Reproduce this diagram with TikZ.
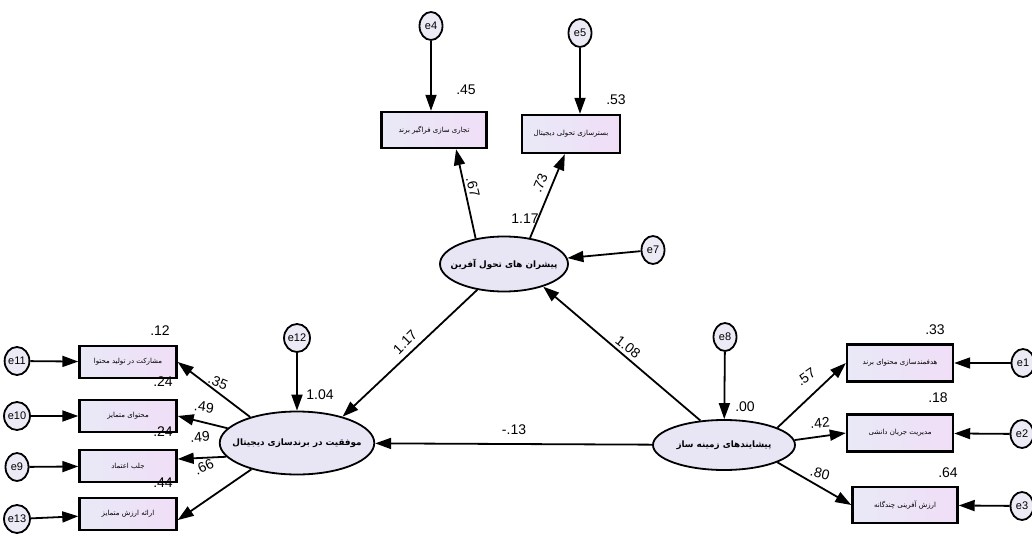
\documentclass[tikz,border=0pt]{standalone}
\usepackage{fontspec}
\setmainfont{Liberation Sans}
\newfontfamily\fa[Script=Arabic]{DejaVu Sans}
\TeXXeTstate=1
\usetikzlibrary{shapes.geometric,arrows.meta}
\newcommand{\farsi}[1]{{\fa\beginR #1\endR}}
\tikzset{
	obs/.style={draw,line width=2.4pt,rectangle,inner sep=0pt,
		left color={rgb,255:red,233;green,233;blue,247},right color={rgb,255:red,240;green,222;blue,247},
		minimum width=97pt,minimum height=32pt,font=\fontsize{7}{8}\selectfont},
	lat/.style={draw,line width=1.8pt,ellipse,inner xsep=-10pt,inner ysep=0pt,fill={rgb,255:red,232;green,229;blue,245},
		font=\bfseries\fontsize{8.8}{10}\selectfont},
	err/.style={draw,line width=1.8pt,ellipse,inner sep=0pt,fill={rgb,255:red,236;green,234;blue,245},
		minimum width=23pt,minimum height=28pt,font=\fontsize{11}{12}\selectfont},
	path/.style={line width=1.8pt,-{Triangle[length=16pt,width=11pt]}},
	lbl/.style={inner sep=0pt,font=\fontsize{14}{15}\selectfont}
}
\begin{document}
\begin{tikzpicture}[x=1pt,y=-1pt]
	\useasboundingbox (0,0) rectangle (1032,537);
	
	% latent variables
	\node[lat,minimum width=128pt,minimum height=55pt] (F) at (504,264) {\farsi{پیشران های تحول آفرین}};
	\node[lat,minimum width=154pt,minimum height=63pt] (L) at (297,443) {\farsi{موفقیت در برندسازی دیجیتال}};
	\node[lat,minimum width=142pt,minimum height=50pt] (R) at (724,445) {\farsi{پیشایندهای زمینه ساز}};
	
	% top indicators
	\node[obs,minimum width=105pt,minimum height=36pt] (b4) at (434,130) {\farsi{تجاری سازی فراگیر برند}};
	\node[obs,minimum width=98pt,minimum height=38pt] (b5) at (571,134) {\farsi{بسترسازی تحولی دیجیتال}};
	
	% left indicators
	\node[obs] (b11) at (128,362) {\farsi{مشارکت در تولید محتوا}};
	\node[obs] (b10) at (128,416) {\farsi{محتوای متمایز}};
	\node[obs] (b9) at (128,466) {\farsi{جلب اعتماد}};
	\node[obs] (b13) at (128,514) {\farsi{ارائه ارزش متمایز}};
	
	% right indicators
	\node[obs,minimum width=106pt,minimum height=37pt] (b1) at (900,363) {\farsi{هدفمندسازی محتوای برند}};
	\node[obs,minimum width=106pt,minimum height=37pt] (b2) at (900,433) {\farsi{مدیریت جریان دانشی}};
	\node[obs,minimum width=105pt,minimum height=36pt] (b3) at (905,505) {\farsi{ارزش آفرینی چندگانه}};
	
	% error terms
	\node[err] (e4) at (431,26) {e4};
	\node[err] (e5) at (580,33) {e5};
	\node[err] (e7) at (653,250) {e7};
	\node[err] (e12) at (297,338) {e12};
	\node[err] (e8) at (725,337) {e8};
	\node[err] (e11) at (17,361) {e11};
	\node[err] (e10) at (17,416) {e10};
	\node[err] (e9) at (17,467) {e9};
	\node[err] (e13) at (17,519) {e13};
	\node[err] (e1) at (1023,363) {e1};
	\node[err] (e2) at (1022,434) {e2};
	\node[err] (e3) at (1022,506) {e3};
	
	% paths
	\draw[path] (F.138) -- (b4.-41);
	\draw[path] (F.45) -- (b5.-107);
	\draw[path] (F.224) -- (L.30);
	\draw[path] (R.134) -- (F.-30);
	\draw[path] (R) -- (L);
	\draw[path] (L.151) -- (b11.east);
	\draw[path] (L.168) -- (b10.east);
	\draw[path] (L.191) -- (b9.8);
	\draw[path] (L.210) -- (b13.-7);
	\draw[path] (R.18) -- (b1.west);
	\draw[path] (R.4) -- (b2.west);
	\draw[path] (R.-18) -- (b3.west);
	
	\draw[path] (e4) -- (e4 |- b4.north);
	\draw[path] (e5) -- (e5 |- b5.north);
	\draw[path] (e7) -- (F);
	\draw[path] (e12) -- (L);
	\draw[path] (e8) -- (R);
	\draw[path] (e11) -- (b11);
	\draw[path] (e10) -- (b10);
	\draw[path] (e9) -- (b9);
	\draw[path] (e13) -- (b13);
	\draw[path] (e1) -- (b1);
	\draw[path] (e2) -- (b2);
	\draw[path] (e3) -- (b3);
	
	% estimates
	\node[lbl] (v4) at (466,90) {.45};
	\node[lbl] (v5) at (616,100) {.53};
	\node[lbl] (vF) at (525,219) {1.17};
	\node[lbl,rotate=-76] (w4) at (473,187) {.67};
	\node[lbl,rotate=67] (w5) at (540,183) {.73};
	\node[lbl,rotate=45] (wFL) at (405,342) {1.17};
	\node[lbl] (vL) at (320,395) {1.04};
	\node[lbl,rotate=-38] (wRF) at (628,347) {1.08};
	\node[lbl] (vR) at (745,407) {.00};
	\node[lbl] (wRL) at (514,430) {-.13};
	\node[lbl] (v11) at (160,331) {.12};
	\node[lbl] (v10) at (163,382) {.24};
	\node[lbl] (v9) at (163,432) {.24};
	\node[lbl] (v13) at (163,483) {.44};
	\node[lbl,rotate=-22] (w11) at (218,382) {.35};
	\node[lbl,rotate=-8] (w10) at (204,407) {.49};
	\node[lbl,rotate=5] (w9) at (200,437) {.49};
	\node[lbl,rotate=25] (w13) at (204,467) {.66};
	\node[lbl] (v1) at (935,330) {.33};
	\node[lbl] (v2) at (938,398) {.18};
	\node[lbl] (v3) at (948,473) {.64};
	\node[lbl,rotate=35] (w1) at (806,377) {.57};
	\node[lbl,rotate=5] (w2) at (820,423) {.42};
	\node[lbl,rotate=-15] (w3) at (820,473) {.80};
\end{tikzpicture}
\end{document}
